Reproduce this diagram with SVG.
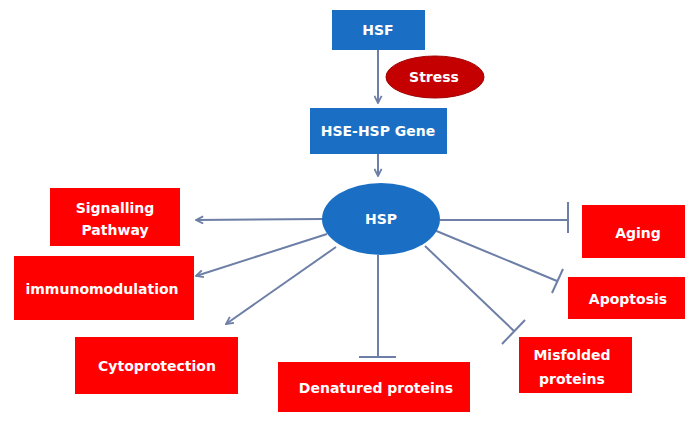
<svg xmlns="http://www.w3.org/2000/svg" width="686" height="432" viewBox="0 0 686 432">
<defs>
<style>
.blue{fill:#1a6fc4}
.red{fill:#ff0000}
.t{font-family:"DejaVu Sans","Liberation Sans",sans-serif;font-weight:bold;font-size:14px;fill:#ffffff;text-anchor:middle}
.c{stroke:#6d7fa6;stroke-width:2;fill:none}
</style>
<marker id="ah" viewBox="0 0 10 10" refX="9" refY="5" markerWidth="9" markerHeight="9" markerUnits="userSpaceOnUse" orient="auto">
<path d="M1,1 L9,5 L1,9" fill="none" stroke="#6d7fa6" stroke-width="2"/>
</marker>
</defs>
<rect width="686" height="432" fill="#ffffff"/>
<g id="connectors">
<line class="c" x1="378" y1="50" x2="378" y2="103" marker-end="url(#ah)"/>
<line class="c" x1="378" y1="154" x2="378" y2="176" marker-end="url(#ah)"/>
<line class="c" x1="323" y1="219" x2="196" y2="220" marker-end="url(#ah)"/>
<line class="c" x1="327" y1="234" x2="196" y2="276" marker-end="url(#ah)"/>
<line class="c" x1="336" y1="247" x2="226" y2="324" marker-end="url(#ah)"/>
<line class="c" x1="378" y1="255" x2="378" y2="357"/>
<line class="c" x1="359" y1="357" x2="396" y2="357"/>
<line class="c" x1="440" y1="220" x2="568" y2="220"/>
<line class="c" x1="568" y1="202" x2="568" y2="233"/>
<line class="c" x1="434" y1="230" x2="557" y2="281"/>
<line class="c" x1="552" y1="293" x2="563" y2="269"/>
<line class="c" x1="425" y1="246" x2="514" y2="331"/>
<line class="c" x1="502" y1="344" x2="525" y2="320"/>
</g>
<g id="hsf">
<rect class="blue" x="332" y="10" width="93" height="40"/>
<text class="t" x="378" y="35">HSF</text>
</g>
<g id="stress">
<ellipse cx="435" cy="77" rx="49" ry="21" fill="#c40000" stroke="#a00000" stroke-width="1"/>
<text class="t" x="434" y="82">Stress</text>
</g>
<g id="hse">
<rect class="blue" x="310" y="108" width="137" height="46"/>
<text class="t" x="378" y="136">HSE-HSP Gene</text>
</g>
<g id="hsp">
<ellipse class="blue" cx="381" cy="219" rx="59" ry="36"/>
<text class="t" x="381" y="224">HSP</text>
</g>
<g id="signalling">
<rect class="red" x="50" y="188" width="130" height="58"/>
<text class="t" x="115" y="213">Signalling</text>
<text class="t" x="115" y="235">Pathway</text>
</g>
<g id="immuno">
<rect class="red" x="14" y="256" width="180" height="64"/>
<text class="t" x="102" y="294">immunomodulation</text>
</g>
<g id="cyto">
<rect class="red" x="75" y="337" width="163" height="57"/>
<text class="t" x="157" y="371">Cytoprotection</text>
</g>
<g id="denatured">
<rect class="red" x="278" y="362" width="192" height="50"/>
<text class="t" x="376" y="393">Denatured proteins</text>
</g>
<g id="aging">
<rect class="red" x="582" y="205" width="103" height="53"/>
<text class="t" x="638" y="238">Aging</text>
</g>
<g id="apoptosis">
<rect class="red" x="568" y="277" width="117" height="42"/>
<text class="t" x="628" y="304">Apoptosis</text>
</g>
<g id="misfolded">
<rect class="red" x="519" y="337" width="113" height="56"/>
<text class="t" x="572" y="360">Misfolded</text>
<text class="t" x="572" y="384">proteins</text>
</g>
</svg>
